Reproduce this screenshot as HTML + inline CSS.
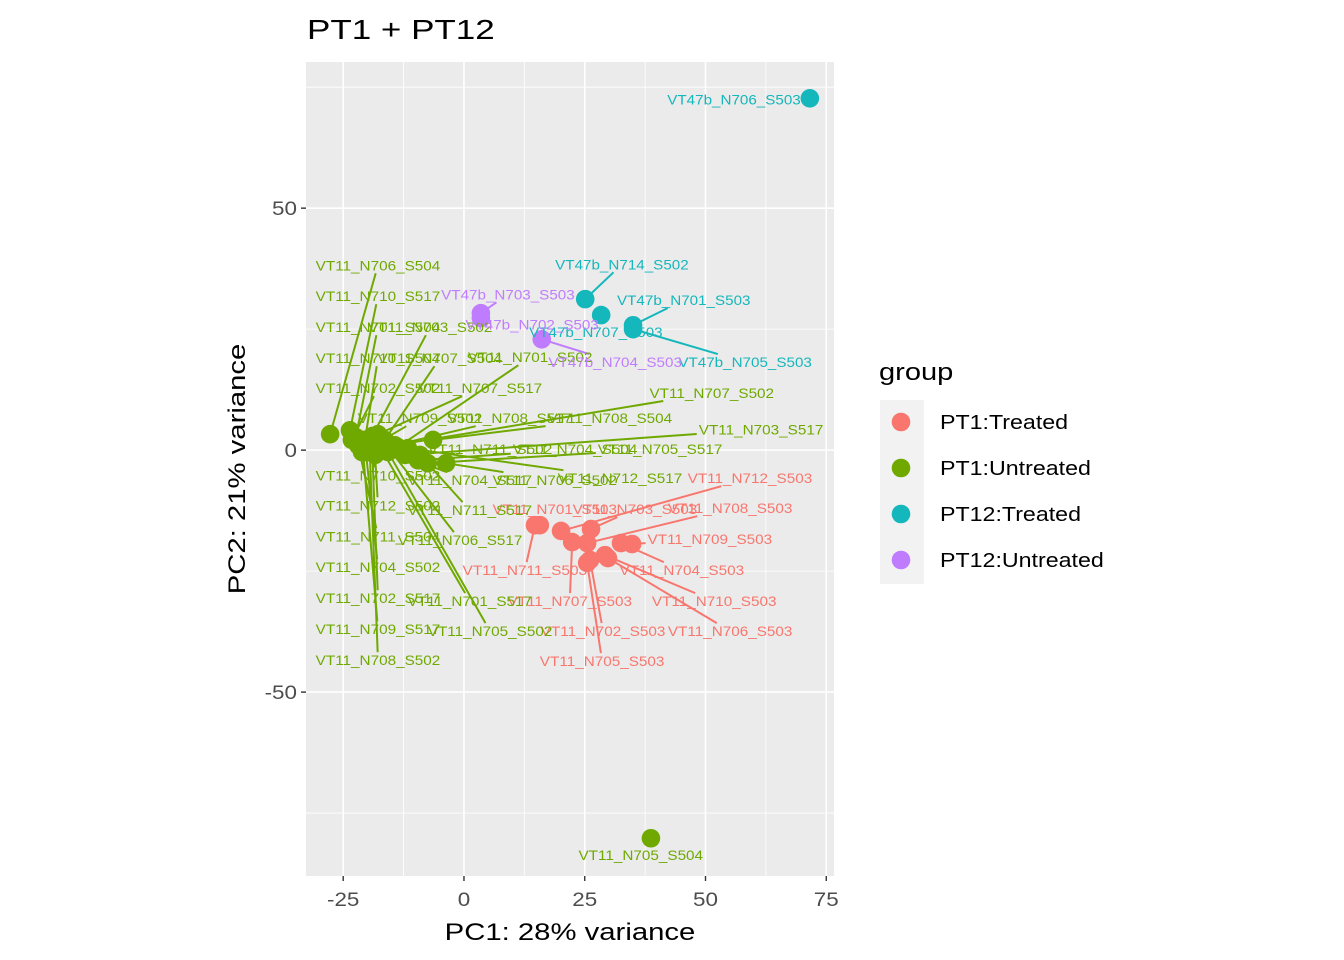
<!DOCTYPE html>
<html><head><meta charset="utf-8"><style>
body{margin:0;background:#fff;}
svg{display:block;font-family:"Liberation Sans",sans-serif;}
</style></head><body>
<svg id="chart" width="1344" height="960" viewBox="0 0 1344 960"></svg>
<script>
// ---- data (data units) ----
const groups = ["PT1:Treated","PT1:Untreated","PT12:Treated","PT12:Untreated"];
const groupColors = ["#F8766D","#6FA900","#14B7BB","#C07CFF"];
const xTicks = [-25,0,25,50,75];
const yTicks = [-50,0,50];
const sampleNames = [
"VT11_N711_S503","VT11_N701_S503","VT11_N712_S503","VT11_N707_S503","VT11_N703_S503","VT11_N708_S503","VT11_N704_S503","VT11_N709_S503","VT11_N710_S503","VT11_N705_S503","VT11_N702_S503","VT11_N706_S503",
"VT11_N706_S504","VT11_N710_S517","VT11_N701_S504","VT11_N703_S502","VT11_N710_S504","VT11_N707_S504","VT11_N701_S502","VT11_N702_S502","VT11_N707_S517","VT11_N709_S502","VT11_N708_S517","VT11_N708_S504","VT11_N707_S502","VT11_N703_S517","VT11_N711_S502","VT11_N704_S504","VT11_N705_S517","VT11_N710_S502","VT11_N704_S517","VT11_N706_S502","VT11_N712_S517","VT11_N712_S502","VT11_N711_S517","VT11_N711_S504","VT11_N706_S517","VT11_N704_S502","VT11_N702_S517","VT11_N701_S517","VT11_N709_S517","VT11_N705_S502","VT11_N708_S502","VT11_N705_S504",
"VT47b_N706_S503","VT47b_N714_S502","VT47b_N707_S503","VT47b_N701_S503","VT47b_N705_S503",
"VT47b_N703_S503","VT47b_N702_S503","VT47b_N704_S503"];
const sampleGroup = [0,0,0,0,0,0,0,0,0,0,0,0,
1,1,1,1,1,1,1,1,1,1,1,1,1,1,1,1,1,1,1,1,1,1,1,1,1,1,1,1,1,1,1,1,
2,2,2,2,2,3,3,3];
const pc1 = [14.7,15.7,20.1,22.4,26.3,25.5,32.5,34.8,29.2,25.5,26.1,29.8,
-27.7,-23.6,-22.4,-19.0,-20.5,-16.4,-13.7,-23.2,-17.8,-21.1,-15.3,-6.4,-14.3,-12.2,-10.8,-9.5,-7.5,-19.9,-17.4,-3.7,-11.6,-18.4,-9.1,-21.9,-15.3,-20.3,-19.0,-17.0,-21.1,-15.7,-19.5,38.7,
71.6,25.1,28.4,35.0,35.0,3.5,3.5,16.1];
const pc2 = [-15.5,-15.5,-16.7,-19.0,-16.3,-19.2,-19.2,-19.4,-21.7,-23.3,-22.7,-22.3,
3.3,4.1,2.7,2.9,2.1,2.1,0.6,2.1,3.3,-0.4,0.8,2.1,1.0,-1.0,-1.0,-2.1,-2.7,0.6,0.4,-2.7,0.4,-1.0,-1.0,1.0,0.0,-0.4,0.4,0.0,2.1,-0.4,-0.4,-80.2,
72.7,31.2,27.9,25.8,25.0,28.3,27.3,22.9];
const labelX = [12.6,18.8,59.2,21.9,35.4,55.1,45.1,50.9,51.8,28.6,28.8,55.1,
-17.8,-17.8,-17.8,-7.0,-17.8,-5.0,13.7,-17.8,3.3,-9.1,9.5,30.2,51.3,61.5,5.4,23.0,40.6,-17.8,1.2,18.8,32.3,-17.8,1.2,-17.8,-0.8,-17.8,-17.8,1.2,-17.8,5.4,-17.8,36.6,
55.9,32.7,27.3,45.5,58.2,9.1,14.1,31.3];
const labelY = [-24.8,-12.2,-5.8,-31.2,-12.2,-12.0,-24.8,-18.4,-31.2,-43.6,-37.4,-37.4,
38.2,31.8,25.4,25.4,19.0,19.0,19.2,12.8,12.8,6.6,6.6,6.6,11.8,4.3,0.2,0.2,0.2,-5.2,-6.2,-6.2,-5.8,-11.4,-12.4,-17.8,-18.6,-24.2,-30.6,-31.2,-37.0,-37.4,-43.4,-83.7,
72.5,38.4,24.4,31.0,18.2,32.2,26.0,18.2];

// ---- layout ----
const P = {l:306, r:834, t:62, b:876};
const X0=-32.7, X1=76.6, Y0=-88.0, Y1=80.2;
const sx = v => P.l + (v-X0)/(X1-X0)*(P.r-P.l);
const sy = v => P.b - (v-Y0)/(Y1-Y0)*(P.b-P.t);
const NS="http://www.w3.org/2000/svg";
const svg=document.getElementById('chart');
function mk(tag, attrs, parent){const e=document.createElementNS(NS,tag);for(const k in attrs)e.setAttribute(k,attrs[k]);(parent||svg).appendChild(e);return e;}
function stretch(e,f){const L=e.getComputedTextLength();if(L>0){e.setAttribute('textLength',L*f);e.setAttribute('lengthAdjust','spacingAndGlyphs');}}

// title
let t=mk('text',{x:307,y:39,'font-size':28,fill:'#000'});t.textContent='PT1 + PT12';


stretch(t,1.25);

// panel
let bg=mk('rect',{x:P.l,y:P.t,width:P.r-P.l,height:P.b-P.t,fill:'#EBEBEB'});


const gridG=mk('g',{});


for(let i=0;i<xTicks.length-1;i++){const m=(xTicks[i]+xTicks[i+1])/2;mk('line',{x1:sx(m),x2:sx(m),y1:P.t,y2:P.b,stroke:'#fff','stroke-width':0.8},gridG);}
{const m=xTicks[0]-(xTicks[1]-xTicks[0])/2; if(m>X0) mk('line',{x1:sx(m),x2:sx(m),y1:P.t,y2:P.b,stroke:'#fff','stroke-width':0.8},gridG);}
const yStep=yTicks[1]-yTicks[0];
[yTicks[0]-yStep/2, ...yTicks.slice(0,-1).map((v,i)=>(v+yTicks[i+1])/2), yTicks[yTicks.length-1]+yStep/2].forEach(m=>{
 if(m>Y0&&m<Y1) mk('line',{x1:P.l,x2:P.r,y1:sy(m),y2:sy(m),stroke:'#fff','stroke-width':0.8},gridG);});
xTicks.forEach(v=>mk('line',{x1:sx(v),x2:sx(v),y1:P.t,y2:P.b,stroke:'#fff','stroke-width':1.6},gridG));
yTicks.forEach(v=>mk('line',{x1:P.l,x2:P.r,y1:sy(v),y2:sy(v),stroke:'#fff','stroke-width':1.6},gridG));

// axes ticks & labels
xTicks.forEach(v=>{
 mk('line',{x1:sx(v),x2:sx(v),y1:P.b,y2:P.b+5,stroke:'#333','stroke-width':1.4});
 const e=mk('text',{x:sx(v),y:906,'font-size':19,fill:'#4D4D4D','text-anchor':'middle'});e.textContent=v;
 
 
 stretch(e,1.18);
});
yTicks.forEach(v=>{
 mk('line',{x1:P.l-5,x2:P.l,y1:sy(v),y2:sy(v),stroke:'#333','stroke-width':1.4});
 const e=mk('text',{x:P.l-9,y:sy(v)+7,'font-size':19,fill:'#4D4D4D','text-anchor':'end'});e.textContent=v;
 
 
 stretch(e,1.18);
});
let xt=mk('text',{x:570,y:940,'font-size':24,fill:'#000','text-anchor':'middle'});xt.textContent='PC1: 28% variance';


stretch(xt,1.22);
let yt=mk('text',{x:0,y:0,'font-size':24,fill:'#000','text-anchor':'middle',transform:'translate(245,469) rotate(-90)'});yt.textContent='PC2: 21% variance';


stretch(yt,1.22);

// clip panel
const defs=mk('defs',{});mk('rect',{x:P.l,y:P.t,width:P.r-P.l,height:P.b-P.t},mk('clipPath',{id:'pc'},defs));
const segG=mk('g',{'clip-path':'url(#pc)'});


const ptG=mk('g',{'clip-path':'url(#pc)'});


const lbG=mk('g',{'clip-path':'url(#pc)'});



const FS=15, CW=8.9;
sampleNames.forEach((n,i)=>{
 const c=groupColors[sampleGroup[i]];
 const px=sx(pc1[i]), py=sy(pc2[i]), lx=sx(labelX[i]), ly=sy(labelY[i]);
 const hw=n.length*CW/2+2, hh=8;
 const dx=lx-px, dy=ly-py;
 const tx=Math.abs(dx)>hw?(Math.abs(dx)-hw)/Math.abs(dx):0;
 const ty=Math.abs(dy)>hh?(Math.abs(dy)-hh)/Math.abs(dy):0;
 const f=Math.max(tx,ty);
 const ex=px+dx*f, ey=py+dy*f;
 if(Math.hypot(ex-px,ey-py)>12){
  const l=mk('line',{x1:px,y1:py,x2:ex,y2:ey,stroke:c,'stroke-width':2},segG);
  
  
 }
 const p=mk('circle',{cx:px,cy:py,r:9.3,fill:c},ptG);
 
 
 const tx2=mk('text',{x:lx,y:ly+5,'font-size':FS*0.9,fill:c,'text-anchor':'middle','textLength':n.length*CW,'lengthAdjust':'spacingAndGlyphs'},lbG);
 tx2.textContent=n;
 
 
});

// legend
const lg=mk('g',{});


let lt=mk('text',{x:879,y:380,'font-size':24,fill:'#000'},lg);lt.textContent='group';


stretch(lt,1.21);
groups.forEach((g,i)=>{
 const y=400+i*46;
 const k=mk('g',{},lg);
 
 
 mk('rect',{x:880,y:y,width:44,height:46,fill:'#F2F2F2'},k);
 mk('circle',{cx:901,cy:y+22,r:9.3,fill:groupColors[i]},k);
 const e=mk('text',{x:940,y:y+29,'font-size':20,fill:'#000'},k);e.textContent=g;
 stretch(e,1.16);
});
</script>
</body></html>
